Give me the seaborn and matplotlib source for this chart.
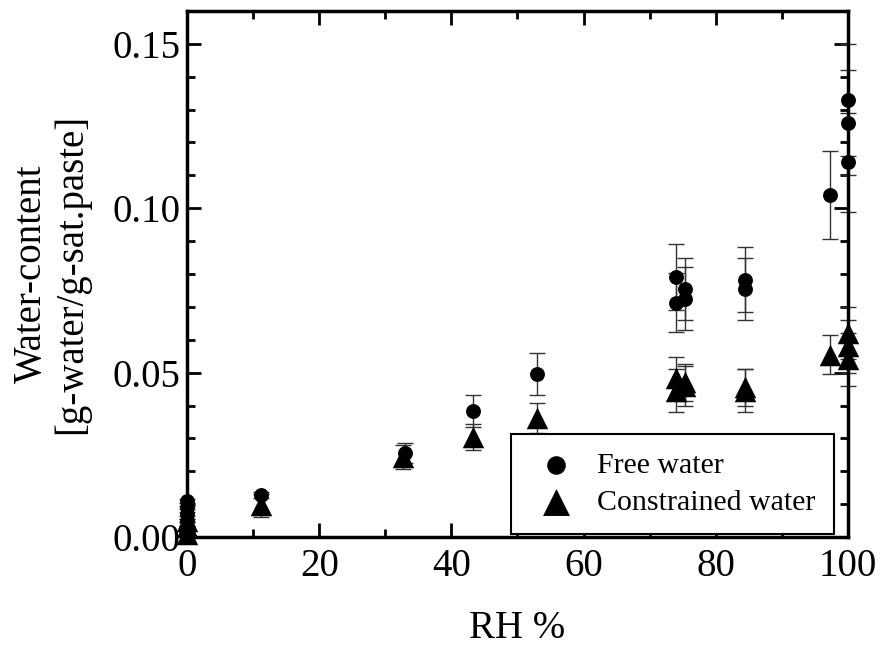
import numpy as np
import pandas as pd
import matplotlib
matplotlib.use("Agg")
import matplotlib.pyplot as plt
from matplotlib.ticker import MultipleLocator, FormatStrFormatter
import seaborn as sns

# === Data ===
free_rh = [0, 0, 0, 0, 0, 11.2, 33, 43.2, 52.9, 74.0, 74.0, 75.3, 75.3, 84.4, 84.4, 97.3, 100, 100, 100]
free_wc = [0.011, 0.009, 0.007, 0.005, 0.003, 0.0128, 0.0255, 0.0384, 0.0496, 0.0792, 0.0713,
           0.0755, 0.0725, 0.0783, 0.0755, 0.104, 0.133, 0.126, 0.114]
free_err = [0.0005, 0.0005, 0.0005, 0.0005, 0.0005, 0.001, 0.003, 0.0048, 0.0065, 0.010, 0.009,
            0.0095, 0.0095, 0.010, 0.0095, 0.0135, 0.017, 0.016, 0.015]

con_rh = [0, 0, 0, 11.2, 32.7, 43.2, 52.9, 74.0, 74.0, 75.3, 75.3, 84.4, 84.4, 97.3, 100, 100, 100]
con_wc = [0.005, 0.003, 0.001, 0.0097, 0.0244, 0.0305, 0.0362, 0.0484, 0.0445, 0.0470, 0.0460,
          0.0455, 0.0445, 0.0555, 0.062, 0.058, 0.054]
con_err = [0.0005, 0.0005, 0.0005, 0.0035, 0.0037, 0.0040, 0.0045, 0.0064, 0.0065, 0.0055, 0.006,
           0.0055, 0.0065, 0.006, 0.008, 0.008, 0.008]

free_df = pd.DataFrame({"RH": free_rh, "wc": free_wc, "err": free_err})
con_df = pd.DataFrame({"RH": con_rh, "wc": con_wc, "err": con_err})

# === Style ===
sns.set_style("ticks")
plt.rcParams["font.family"] = ["Liberation Serif", "DejaVu Serif"]
for key in ("text.color", "axes.labelcolor", "xtick.color", "ytick.color", "axes.edgecolor"):
    plt.rcParams[key] = "black"

fig = plt.figure(figsize=(8.8, 6.53), dpi=100)
ax = fig.add_axes([0.2125, 0.1776, 0.7511, 0.8056])

# error bars first, markers on top
for df in (free_df, con_df):
    eb = ax.errorbar(df["RH"], df["wc"], yerr=df["err"], fmt="none", ecolor="#333333",
                     elinewidth=1.0, capsize=6, capthick=1.0, zorder=2)
    for artist in eb.lines[1] + eb.lines[2]:
        artist.set_clip_on(False)

sns.scatterplot(data=free_df, x="RH", y="wc", marker="o", s=115, color="black",
                edgecolor="black", linewidth=0, label="Free water", ax=ax, zorder=3)
sns.scatterplot(data=con_df, x="RH", y="wc", marker="^", s=240, color="black",
                edgecolor="black", linewidth=0, label="Constrained water", ax=ax, zorder=3)
for coll in ax.collections:
    coll.set_clip_on(False)

# === Axes ===
ax.set_xlim(0, 100)
ax.set_ylim(0, 0.16)
ax.xaxis.set_major_locator(MultipleLocator(20))
ax.xaxis.set_minor_locator(MultipleLocator(10))
ax.yaxis.set_major_locator(MultipleLocator(0.05))
ax.yaxis.set_minor_locator(MultipleLocator(0.01))
ax.yaxis.set_major_formatter(FormatStrFormatter("%.2f"))
ax.tick_params(which="both", direction="in", top=True, right=True, width=2, labelsize=28, pad=5)
ax.tick_params(axis="x", pad=8)
ax.tick_params(which="major", length=10)
ax.tick_params(which="minor", length=6)
for sp in ax.spines.values():
    sp.set_linewidth(2.5)
    sp.set_visible(True)

ax.set_xlabel("RH %", fontsize=28, labelpad=18)
ax.set_ylabel("Water-content\n[g-water/g-sat.paste]", fontsize=28, labelpad=16, linespacing=1.1)

leg = ax.legend(loc="lower right", bbox_to_anchor=(0.983, 0.0), borderaxespad=0.1,
                fontsize=21.5, frameon=True, fancybox=False, edgecolor="black",
                handletextpad=0.5, borderpad=0.6, labelspacing=0.35, markerscale=1.25,
                handlelength=1.8)
leg.get_frame().set_linewidth(1.5)
leg.get_frame().set_alpha(1)

fig.savefig("out.png", dpi=100)
